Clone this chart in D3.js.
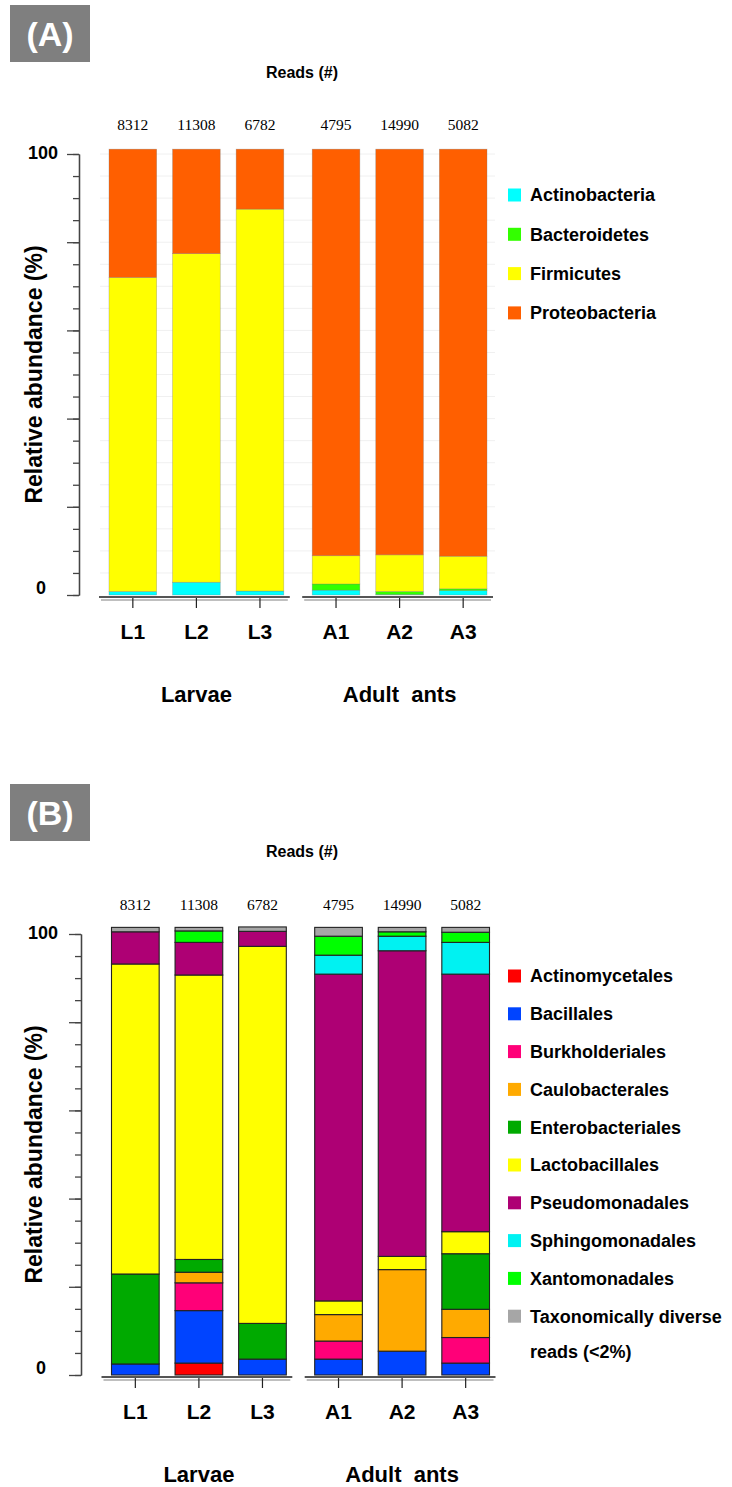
<!DOCTYPE html>
<html>
<head>
<meta charset="utf-8">
<script src="https://cdn.jsdelivr.net/npm/d3@7"></script>
<style>
  body { margin: 0; background: #fff; }
  svg text { font-family: "Liberation Sans", Arial, sans-serif; }
</style>
</head>
<body>
<svg id="chart"></svg>
<script>
// samples and groups
const samples = ["L1", "L2", "L3", "A1", "A2", "A3"];
const larvae = ["L1", "L2", "L3"];
const adults = ["A1", "A2", "A3"];
const groupNames = ["Larvae", "Adult  ants"];
const reads = [8312, 11308, 6782, 4795, 14990, 5082];
const yTickLabels = [0, 100];

// (A) phyla, relative abundance (%)
const phyla = ["Actinobacteria", "Bacteroidetes", "Firmicutes", "Proteobacteria"];
const phylaColors = ["#00ffff", "#33ff00", "#ffff00", "#ff5f00"];
const actinobacteria = [0.8, 2.9, 0.9, 1.1, 0.1, 1.0];
const bacteroidetes = [0.0, 0.0, 0.0, 1.4, 0.7, 0.4];
const firmicutes = [71.2, 74.5, 86.6, 6.4, 8.3, 7.4];
const proteobacteria = [29.1, 23.7, 13.6, 92.2, 92.0, 92.3];

// (B) orders, relative abundance (%)
const orders = ["Actinomycetales", "Bacillales", "Burkholderiales", "Caulobacterales",
  "Enterobacteriales", "Lactobacillales", "Pseudomonadales", "Sphingomonadales",
  "Xantomonadales", "Taxonomically diverse"];
const orderColors = ["#ff0000", "#0044ff", "#ff0078", "#ffaa00", "#00aa00",
  "#ffff00", "#ae0074", "#00f2f2", "#00ff00", "#a6a6a6"];
const actinomycetales   = [0.0, 2.7, 0.0, 0.0, 0.0, 0.0];
const bacillales        = [2.5, 11.9, 3.6, 3.6, 5.4, 2.7];
const burkholderiales   = [0.0, 6.3, 0.0, 4.1, 0.0, 5.8];
const caulobacterales   = [0.0, 2.4, 0.0, 6.0, 18.5, 6.4];
const enterobacteriales = [20.4, 2.9, 8.1, 0.0, 0.0, 12.6];
const lactobacillales   = [70.3, 64.5, 85.5, 3.1, 3.0, 5.0];
const pseudomonadales   = [7.3, 7.4, 3.4, 74.1, 69.3, 58.4];
const sphingomonadales  = [0.0, 0.0, 0.0, 4.3, 3.3, 7.2];
const xantomonadales    = [0.0, 2.6, 0.0, 4.3, 1.0, 2.3];
const diverse           = [1.0, 0.8, 1.0, 2.0, 1.0, 1.1];

const W = 732, H = 1487;
const svg = d3.select("#chart").attr("width", W).attr("height", H);

function makeRows(keys, columns) {
  return samples.map(function(s, i) {
    let row = { sample: s };
    keys.forEach(function(k, j) { row[k] = columns[j][i]; });
    return row;
  });
}

const rowsA = makeRows(phyla, [actinobacteria, bacteroidetes, firmicutes, proteobacteria]);
const rowsB = makeRows(orders, [actinomycetales, bacillales, burkholderiales, caulobacterales,
  enterobacteriales, lactobacillales, pseudomonadales, sphingomonadales, xantomonadales, diverse]);

//DRAW ONE PANEL
function drawPanel(p) {
  let g = svg.append("g");

  // letter box
  g.append("rect")
    .attr("x", 10).attr("y", p.boxY)
    .attr("width", 80).attr("height", 57)
    .attr("fill", "#7f7f7f");
  g.append("text")
    .attr("x", 50).attr("y", p.boxY + 29)
    .attr("dy", "0.36em")
    .attr("text-anchor", "middle")
    .style("font-size", "34px").style("font-weight", "bold")
    .attr("fill", "#fff")
    .text(p.letter);

  g.append("text")
    .attr("x", 302).attr("y", p.readsTitleY)
    .attr("dy", "0.35em")
    .attr("text-anchor", "middle")
    .style("font-size", "16px").style("font-weight", "bold")
    .text("Reads (#)");

  let y = d3.scaleLinear().domain([0, 100]).range([p.y0, p.y0 - 441]);
  let x = d3.scaleBand().domain(samples)
    .range([p.xLeft, p.xLeft + 365.5])
    .paddingInner(0.25).paddingOuter(0);
  let groupGap = 12.5;
  let xPos = function(s) { return x(s) + (adults.includes(s) ? groupGap : 0); };
  let xMid = function(s) { return xPos(s) + x.bandwidth() / 2; };

  // faint grid
  if (p.grid) {
    g.append("g")
      .selectAll("line")
      .data(d3.range(5, 101, 5))
      .enter().append("line")
      .attr("x1", 100).attr("x2", 495)
      .attr("y1", d => y(d)).attr("y2", d => y(d))
      .attr("stroke", "#f0f0f0").attr("stroke-width", 1);
  }

  // y axis: minor and major ticks
  g.append("g")
    .attr("transform", "translate(" + p.axisX + ",0)")
    .call(d3.axisLeft(y).tickValues(d3.range(0, 101, 5)).tickSize(6).tickSizeOuter(0).tickFormat(""))
    .call(a => a.selectAll("line, path").attr("stroke", "#444").attr("stroke-width", 1.3));
  g.append("g")
    .attr("transform", "translate(" + p.axisX + ",0)")
    .call(d3.axisLeft(y).tickValues(d3.range(0, 101, 20)).tickSize(12).tickSizeOuter(0).tickFormat(""))
    .call(a => a.selectAll("line, path").attr("stroke", "#444").attr("stroke-width", 1.3));

  g.selectAll(".ylab")
    .data(yTickLabels)
    .enter().append("text")
    .attr("x", d => d === 100 ? 58 : 41)
    .attr("y", d => y(d) - (d === 0 ? 7 : 1))
    .attr("dy", "0.36em")
    .attr("text-anchor", d => d === 100 ? "end" : "middle")
    .style("font-size", "18px").style("font-weight", "bold")
    .text(d => d);

  g.append("text")
    .attr("transform", "translate(34," + y(50) + ") rotate(-90)")
    .attr("dy", "0.36em")
    .attr("text-anchor", "middle")
    .style("font-size", "23px").style("font-weight", "bold")
    .text("Relative abundance (%)");

  // stacked bars
  let series = d3.stack().keys(p.keys)(p.rows);
  let color = d3.scaleOrdinal().domain(p.keys).range(p.colors);
  g.append("g")
    .selectAll("g")
    .data(series)
    .enter().append("g")
    .attr("fill", d => color(d.key))
    .selectAll("rect")
    .data(d => d.filter(v => v[1] - v[0] > 0))
    .enter().append("rect")
    .attr("x", d => xPos(d.data.sample))
    .attr("width", x.bandwidth())
    .attr("y", d => y(d[1]))
    .attr("height", d => y(d[0]) - y(d[1]))
    .attr("stroke", p.stroke)
    .attr("stroke-width", p.strokeW);

  // reads numbers
  g.selectAll(".reads")
    .data(samples)
    .enter().append("text")
    .attr("x", d => xMid(d))
    .attr("y", p.readsY)
    .attr("dy", "0.35em")
    .attr("text-anchor", "middle")
    .style("font-family", "'Liberation Serif', 'Times New Roman', serif")
    .style("font-size", "15.5px")
    .text((d, i) => reads[i]);

  // baselines per group
  [larvae, adults].forEach(function(grp, gi) {
    let x1 = xPos(grp[0]) - 10;
    let x2 = xPos(grp[grp.length - 1]) + x.bandwidth() + 6;
    g.append("line")
      .attr("x1", x1).attr("x2", x2)
      .attr("y1", p.y0 + 2).attr("y2", p.y0 + 2)
      .attr("stroke", "#555").attr("stroke-width", 2);
    g.append("line")
      .attr("x1", x1 + 2).attr("x2", x2 - 2)
      .attr("y1", p.y0 + 5).attr("y2", p.y0 + 5)
      .attr("stroke", "#aaa").attr("stroke-width", 1.5);
    g.append("text")
      .attr("x", (xMid(grp[0]) + xMid(grp[grp.length - 1])) / 2)
      .attr("y", p.y0 + 99)
      .attr("dy", "0.36em")
      .attr("text-anchor", "middle")
      .style("font-size", "22px").style("font-weight", "bold")
      .style("white-space", "pre")
      .text(groupNames[gi]);
  });

  g.selectAll(".xtick")
    .data(samples)
    .enter().append("line")
    .attr("x1", d => xMid(d)).attr("x2", d => xMid(d))
    .attr("y1", p.y0 + 3).attr("y2", p.y0 + 13)
    .attr("stroke", "#222").attr("stroke-width", 1.2);

  g.selectAll(".xlab")
    .data(samples)
    .enter().append("text")
    .attr("x", d => xMid(d))
    .attr("y", p.y0 + 36)
    .attr("dy", "0.36em")
    .attr("text-anchor", "middle")
    .style("font-size", "21px").style("font-weight", "bold")
    .text(d => d);

  // legend
  let leg = g.append("g")
    .selectAll("g")
    .data(p.keys)
    .enter().append("g")
    .attr("transform", (d, i) => "translate(508," + (p.legY + i * p.legStep) + ")");
  leg.append("rect")
    .attr("x", 0).attr("y", -6.5)
    .attr("width", 13).attr("height", 13)
    .attr("fill", d => color(d));
  leg.append("text")
    .attr("x", 22)
    .attr("dy", "0.36em")
    .style("font-size", "18px").style("font-weight", "bold")
    .text(d => d);
  if (p.extraLine) {
    g.append("text")
      .attr("x", 530)
      .attr("y", p.legY + (p.keys.length - 1) * p.legStep + 35)
      .attr("dy", "0.36em")
      .style("font-size", "18px").style("font-weight", "bold")
      .text(p.extraLine);
  }
}

drawPanel({
  letter: "(A)", boxY: 5, readsTitleY: 72, readsY: 125,
  y0: 595, xLeft: 109, axisX: 79, grid: true,
  keys: phyla, colors: phylaColors, rows: rowsA,
  stroke: "rgba(120,120,120,0.5)", strokeW: 0.6,
  legY: 195, legStep: 39.3
});

drawPanel({
  letter: "(B)", boxY: 784, readsTitleY: 851, readsY: 905,
  y0: 1375, xLeft: 111.5, axisX: 81, grid: false,
  keys: orders, colors: orderColors, rows: rowsB,
  stroke: "#222", strokeW: 1.1,
  legY: 976, legStep: 37.8, extraLine: "reads (<2%)"
});
</script>
</body>
</html>
